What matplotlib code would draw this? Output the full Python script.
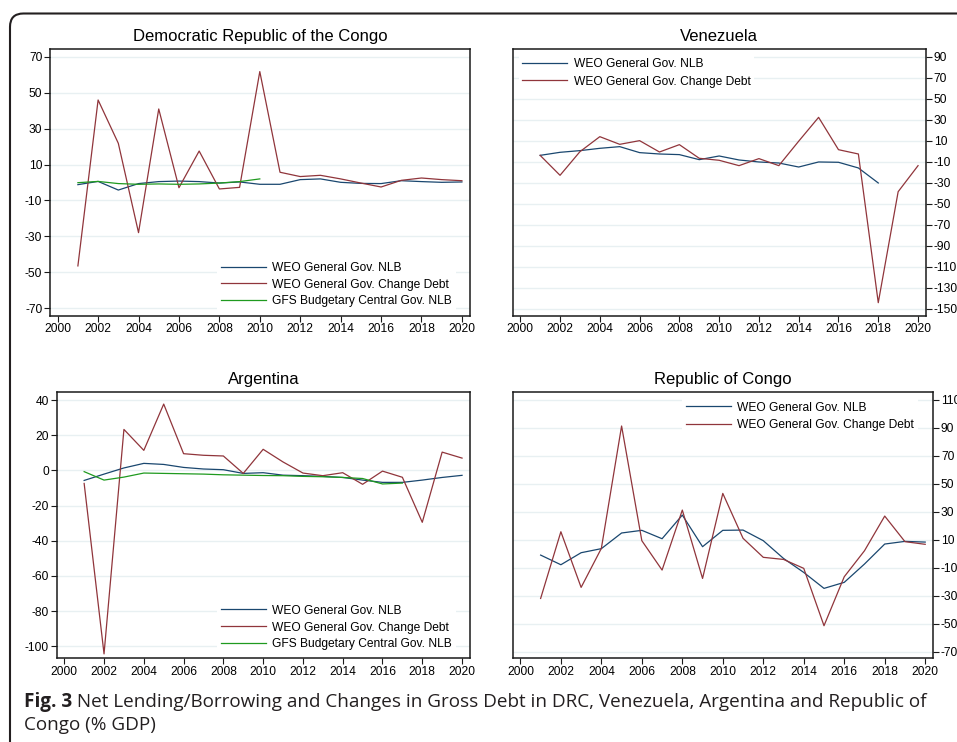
import matplotlib
matplotlib.use("Agg")
import matplotlib.pyplot as plt
from matplotlib.patches import FancyBboxPatch
import numpy as np

plt.rcParams['font.family'] = ['Liberation Sans', 'DejaVu Sans']
plt.rcParams['axes.unicode_minus'] = False

years = list(range(2001, 2021))

# DRC
drc_nlb = [-1.2, 0.6, -4.2, -0.6, 0.5, 0.8, 0.5, -0.3, 0.3, -1.0,
           -1.0, 1.6, 2.0, 0.1, -0.5, -0.6, 1.0, 0.5, 0.1, 0.3]
drc_debt = [-46.4, 45.9, 21.8, -27.9, 40.9, -2.9, 17.5, -3.6, -2.7, 61.7,
            5.7, 3.3, 4.0, 2.0, -0.3, -2.5, 1.2, 2.5, 1.6, 1.0]
drc_gfs_years = list(range(2001, 2011))
drc_gfs = [-0.1, 0.6, -0.6, -1.0, -0.8, -1.0, -0.8, -0.3, 0.5, 2.0]

# Venezuela
ven_nlb_years = list(range(2001, 2019))
ven_nlb = [-4.0, -1.1, 0.5, 2.7, 4.3, -1.4, -2.7, -3.3, -8.1, -4.6,
           -8.4, -10.3, -11.3, -15.1, -10.3, -10.6, -16.0, -30.3]
ven_debt = [-4.0, -23.0, -0.5, 13.8, 6.5, 10.0, -0.8, 6.2, -6.8, -8.7,
            -13.8, -7.1, -13.8, 9.5, 32.2, 1.4, -2.7, -144.3, -38.6, -13.8]

# Argentina
arg_nlb = [-5.7, -2.1, 1.4, 4.0, 3.4, 1.7, 0.8, 0.4, -1.7, -1.3,
           -2.7, -3.0, -3.4, -4.0, -5.5, -6.8, -6.8, -5.5, -4.0, -2.8]
arg_debt = [-7.4, -104.3, 23.3, 11.4, 37.7, 9.5, 8.6, 8.2, -1.7, 12.0,
            4.8, -1.5, -3.0, -1.3, -7.9, -0.4, -3.9, -29.5, 10.4, 7.0]
arg_gfs_years = list(range(2001, 2018))
arg_gfs = [-0.7, -5.5, -3.8, -1.5, -1.7, -1.9, -2.1, -2.5, -2.7, -2.9,
           -3.0, -3.4, -3.6, -4.0, -4.6, -7.7, -7.2]

# Republic of Congo
cog_nlb = [-0.9, -7.8, 0.8, 3.7, 14.9, 16.8, 10.8, 27.7, 5.1, 16.8,
           17.0, 9.4, -3.3, -13.3, -24.7, -20.4, -7.3, 7.0, 8.9, 8.4]
cog_debt = [-31.9, 15.8, -24.0, 3.9, 91.4, 9.4, -11.6, 31.3, -17.6, 43.2,
            11.1, -2.5, -4.0, -10.4, -51.4, -16.4, 2.2, 27.0, 8.7, 6.8]

xticks = list(range(2000, 2021, 2))
lab_nlb = "WEO General Gov. NLB"
lab_debt = "WEO General Gov. Change Debt"
lab_gfs = "GFS Budgetary Central Gov. NLB"
titles = ["Democratic Republic of the Congo", "Venezuela", "Argentina", "Republic of Congo"]

NAVY = "#1a476f"
MAROON = "#90353b"
GREEN = "#1f9a1f"
GRID = "#e8f0f2"

W, H = 957, 742
fig = plt.figure(figsize=(W / 100, H / 100), dpi=100)
fig.patch.set_facecolor("white")

# outer frame (rounded corner top-left)
frame = FancyBboxPatch((10 / W, -0.05), 1.1, (1 - 13.5 / H) + 0.05,
                       boxstyle="round,pad=0,rounding_size=0.014",
                       transform=fig.transFigure, fill=False,
                       edgecolor="#231f20", linewidth=1.5, clip_on=False,
                       mutation_aspect=W / H)
fig.patches.append(frame)


def add_ax(l, r, t, b):
    return fig.add_axes([l / W, 1 - b / H, (r - l) / W, (b - t) / H])


FS = 8.64


def style(ax, ylim, yticks, right, title, title_y):
    ax.set_xlim(1999.62, 2020.4)
    ax.set_ylim(*ylim)
    ax.set_xticks(xticks)
    ax.set_yticks(yticks)
    ax.yaxis.grid(True, color=GRID, linewidth=1.0)
    ax.set_axisbelow(True)
    for s in ax.spines.values():
        s.set_linewidth(1.1)
        s.set_color("#1a1a1a")
    ax.tick_params(axis="both", direction="out", length=4, width=0.8,
                   labelsize=FS, pad=1.5, colors="#1a1a1a", labelcolor="black")
    if right:
        ax.yaxis.tick_right()
    bb = ax.get_position()
    fig.text((bb.x0 + bb.x1) / 2, 1 - title_y / H, title, ha="center", va="center",
             fontsize=12)


def add_legend(ax, handles, labels, hx, cy, spacing):
    pad = 0.3
    leg = ax.legend(handles, labels, loc="center left",
                    bbox_to_anchor=((hx - pad * 12) / W, 1 - cy / H),
                    bbox_transform=fig.transFigure, fontsize=FS,
                    handlelength=3.75, handletextpad=0.55, labelspacing=spacing,
                    borderpad=pad, borderaxespad=0, frameon=True,
                    facecolor="white", edgecolor="none", framealpha=1,
                    fancybox=False)
    return leg


LW = 0.9

# Panel 1: DRC
ax1 = add_ax(50, 470, 49.3, 315.7)
h1, = ax1.plot(years, drc_nlb, color=NAVY, lw=LW)
h2, = ax1.plot(years, drc_debt, color=MAROON, lw=LW)
h3, = ax1.plot(drc_gfs_years, drc_gfs, color=GREEN, lw=LW)
style(ax1, (-74.1, 74.1), range(-70, 71, 20), False, titles[0], 36.7)
add_legend(ax1, [h1, h2, h3], [lab_nlb, lab_debt, lab_gfs], 220.7, 284.5, 0.4)

# Panel 2: Venezuela
ax2 = add_ax(512.7, 926, 49.3, 315.7)
h1, = ax2.plot(ven_nlb_years, ven_nlb, color=NAVY, lw=LW)
h2, = ax2.plot(years, ven_debt, color=MAROON, lw=LW)
style(ax2, (-156.7, 97.0), range(-150, 91, 20), True, titles[1], 36.7)
add_legend(ax2, [h1, h2], [lab_nlb, lab_debt], 522.3, 73, 0.43)

# Panel 3: Argentina
ax3 = add_ax(56.7, 470, 392.3, 658.3)
h1, = ax3.plot(years, arg_nlb, color=NAVY, lw=LW)
h2, = ax3.plot(years, arg_debt, color=MAROON, lw=LW)
h3, = ax3.plot(arg_gfs_years, arg_gfs, color=GREEN, lw=LW)
style(ax3, (-106.8, 44.4), range(-100, 41, 20), False, titles[2], 379.3)
add_legend(ax3, [h1, h2, h3], [lab_nlb, lab_debt, lab_gfs], 220.7, 627.5, 0.4)

# Panel 4: Republic of Congo
ax4 = add_ax(512.7, 933.3, 392.3, 658.3)
h1, = ax4.plot(years, cog_nlb, color=NAVY, lw=LW)
h2, = ax4.plot(years, cog_debt, color=MAROON, lw=LW)
style(ax4, (-74.7, 115.5), range(-70, 111, 20), True, titles[3], 379.3)
add_legend(ax4, [h1, h2], [lab_nlb, lab_debt], 685.7, 416.2, 0.43)

# Caption
cap_font = ['Open Sans', 'Liberation Sans', 'DejaVu Sans']
cap_bold = "Fig. 3"
cap_rest = " Net Lending/Borrowing and Changes in Gross Debt in DRC, Venezuela, Argentina and Republic of"
cap_line2 = "Congo (% GDP)"
CAPC = "#231f20"
renderer = fig.canvas.get_renderer()
fs0 = 12
t1 = fig.text(24 / W, 1 - 707.3 / H, cap_bold, fontsize=fs0, fontweight="bold",
              family=cap_font, color=CAPC, va="baseline", ha="left")
w1 = t1.get_window_extent(renderer).width
t2 = fig.text((24 + w1) / W, 1 - 707.3 / H, cap_rest, fontsize=fs0,
              family=cap_font, color=CAPC, va="baseline", ha="left")
w2 = t2.get_window_extent(renderer).width
scale = (925 - 24) / (w1 + w2)
fs = fs0 * scale
t1.set_fontsize(fs)
w1 = t1.get_window_extent(renderer).width
t2.set_fontsize(fs)
t2.set_x((24 + w1) / W)
fig.text(24 / W, 1 - 730 / H, cap_line2, fontsize=fs, family=cap_font,
         color=CAPC, va="baseline", ha="left")

fig.savefig("out.png", dpi=100)
